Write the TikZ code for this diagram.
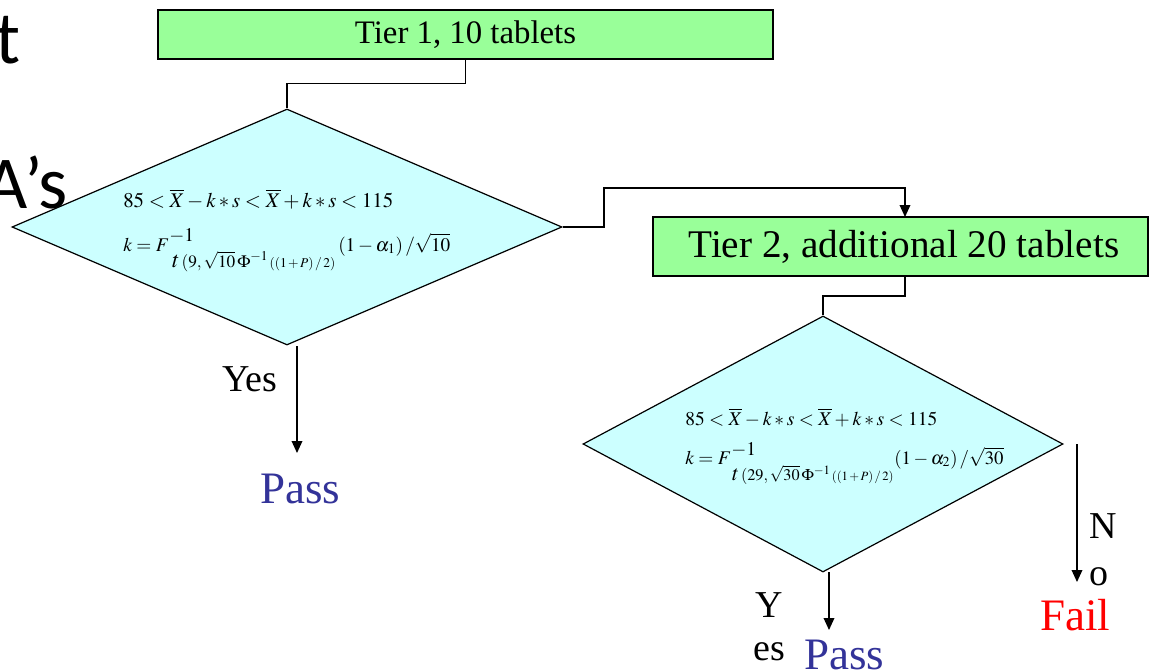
\documentclass[tikz,border=0pt]{standalone}
\usepackage{mathptmx}
\usepackage{fontspec}
\setmainfont{Liberation Serif}
\newfontfamily\calibri{Carlito}
\usetikzlibrary{shapes.geometric,arrows.meta}
\definecolor{boxgreen}{HTML}{99FF99}
\definecolor{diacyan}{HTML}{CCFFFF}
\definecolor{passblue}{HTML}{333399}
\definecolor{failred}{HTML}{FF0000}
\newcommand{\ksub}[2]{$t\scriptstyle\,(#1,\,\sqrt{#2}\,\Phi^{-1}\mkern1mu\scriptscriptstyle((1\,+\,P)\,/\,2)$}
\tikzset{
  tierbox/.style={draw=black, line width=0.9pt, fill=boxgreen, inner sep=0, rectangle},
  decision/.style={draw=black, line width=0.9pt, fill=diacyan, diamond, inner sep=0},
  conn/.style={draw=black, line width=1pt},
  arr/.style={conn, -{Triangle[width=8pt,length=9pt]}},
  lbl/.style={font=\fontsize{28.5}{30}\selectfont, inner sep=0, anchor=base west},
  outcome/.style={font=\fontsize{33.75}{36}\selectfont, inner sep=0, anchor=base west},
  mathline/.style={font=\fontsize{14.5}{16}\selectfont, inner sep=0, anchor=base west},
  subline/.style={font=\fontsize{12}{14}\selectfont, inner sep=0, anchor=base west},
  slide/.style={font=\calibri\fontsize{56}{64}\selectfont, inner sep=0, anchor=base east}
}
\begin{document}
\begin{tikzpicture}[x=0.75pt,y=-0.75pt]
\useasboundingbox (0,0) rectangle (1150,671);
\clip (0,0) rectangle (1150,671);
% slide text behind
\node[slide] (st) at (21,63) {t};
\node[slide] (sa) at (68,208) {A’s};
% boxes
\node[tierbox, minimum width=461.25pt, minimum height=36.75pt, font=\fontsize{24.6}{26}\selectfont] (t1) at (465.5,34.5) {Tier 1, 10 tablets};
\node[decision, minimum width=412.5pt, minimum height=177pt] (d1) at (287,227) {};
\node[tierbox, minimum width=371.25pt, minimum height=44.25pt, font=\fontsize{29.4}{31}\selectfont] (t2) at (900.5,246.5) {\hspace{5pt}Tier 2, additional 20 tablets};
\node[decision, minimum width=360pt, minimum height=192pt] (d2) at (823,444) {};
% formulas, diamond 1
\node[mathline] (m1a) at (123,207) {\resizebox{202.5pt}{!}{$85<\overline{X}-k*s<\overline{X}+k*s<115$}};
\node[mathline] (m1k) at (123,251) {$k=F$};
\node[mathline] (m1e) at (169,241) {$-1$};
\node[subline] (m1s) at (172,267) {\resizebox{122.25pt}{!}{\ksub{9}{10}}};
\node[mathline] (m1t) at (338,251) {\resizebox{84pt}{!}{$(1-\alpha_1)\,/\sqrt{10}$}};
% formulas, diamond 2
\node[mathline] (m2a) at (685,425) {\resizebox{189pt}{!}{$85<\overline{X}-k*s<\overline{X}+k*s<115$}};
\node[mathline] (m2k) at (685,464) {$k=F$};
\node[mathline] (m2e) at (731,455) {$-1$};
\node[subline] (m2s) at (732,480) {\resizebox{121pt}{!}{\ksub{29}{30}}};
\node[mathline] (m2t) at (894,464) {\resizebox{82pt}{!}{$(1-\alpha_2)\,/\sqrt{30}$}};
% connectors
\coordinate (j1) at (604,188);
\coordinate (t2in) at (905,217);
\coordinate (t2out) at (905,276);
\draw[conn] (t1.south) -- ++(0,24) -| (d1.north);
\draw[arr] (d1.east) -| (j1) -| (t2in);
\draw[conn] (t2out) -- ++(0,20) -| (d2.north);
\coordinate (a1s) at (297,346);
\coordinate (a1e) at (297,453);
\draw[arr] (a1s) -- (a1e);
\coordinate (a2s) at (829,572);
\coordinate (a2e) at (829,630);
\draw[arr] (a2s) -- (a2e);
\coordinate (a3s) at (1077,444);
\coordinate (a3e) at (1077,582);
\draw[arr] (a3s) -- (a3e);
% labels
\node[lbl] (yes1) at (222,391) {Yes};
\node[outcome, text=passblue] (pass1) at (260,503) {Pass};
\node[lbl] (y2) at (755,617) {Y};
\node[lbl] (es2) at (753,660) {es};
\node[outcome, text=passblue] (pass2) at (804,669) {Pass};
\node[lbl] (n3) at (1089,538) {N};
\node[lbl] (o3) at (1089,585) {o};
\node[outcome, text=failred] (fail) at (1040,630) {Fail};
\end{tikzpicture}
\end{document}
